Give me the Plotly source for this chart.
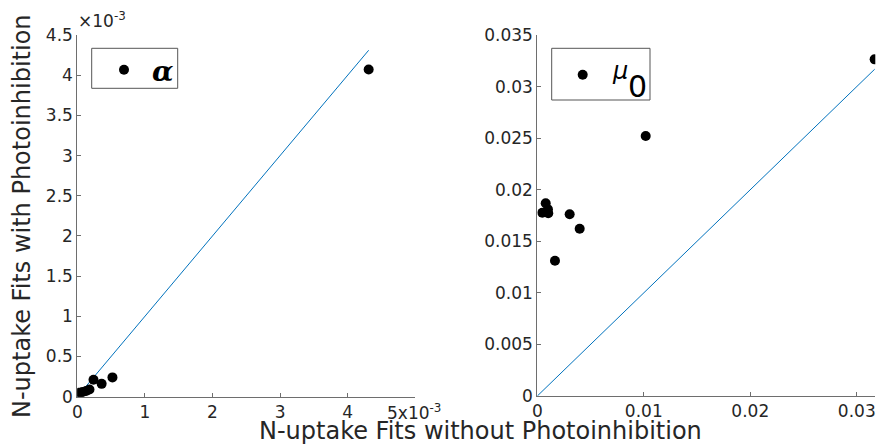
import plotly.graph_objects as go

# N-uptake fit parameters: without photoinhibition (x) vs with photoinhibition (y)
alpha_without = [4.31e-3, 0.52e-3, 0.36e-3, 0.24e-3, 0.18e-3, 0.13e-3, 0.08e-3, 0.02e-3, 0.05e-3]
alpha_with = [4.07e-3, 0.24e-3, 0.16e-3, 0.21e-3, 0.09e-3, 0.07e-3, 0.06e-3, 0.05e-3, 0.05e-3]

mu0_without = [0.03168, 0.01018, 0.00398, 0.00304, 0.00166, 0.00047, 0.00079, 0.00100, 0.00103]
mu0_with = [0.03264, 0.02520, 0.01622, 0.01762, 0.01312, 0.01777, 0.01868, 0.01810, 0.01771]

alpha_ytick_vals = [0, 0.5e-3, 1e-3, 1.5e-3, 2e-3, 2.5e-3, 3e-3, 3.5e-3, 4e-3, 4.5e-3]
alpha_ytick_text = ["0", "0.5", "1", "1.5", "2", "2.5", "3", "3.5", "4", "4.5"]
alpha_xtick_vals = [0, 1e-3, 2e-3, 3e-3, 4e-3]
alpha_xtick_text = ["0", "1", "2", "3", "4"]
mu0_ytick_vals = [0, 0.005, 0.01, 0.015, 0.02, 0.025, 0.03, 0.035]
mu0_ytick_text = ["0", "0.005", "0.01", "0.015", "0.02", "0.025", "0.03", "0.035"]
mu0_xtick_vals = [0, 0.01, 0.02, 0.03]
mu0_xtick_text = ["0", "0.01", "0.02", "0.03"]

W, H = 879, 445
FONT = "DejaVu Sans"
TXT = "#262626"
AX = "#6e6e6e"
BLUE = "#0072BD"


def px_x(p):
    return p / W


def px_y(p):
    return 1 - p / H


fig = go.Figure()

# one-to-one reference lines
a_max = max(alpha_without)
m_max = max(mu0_without)
fig.add_trace(go.Scatter(x=[0, a_max], y=[0, a_max], mode="lines",
                         line=dict(color=BLUE, width=1), showlegend=False,
                         xaxis="x", yaxis="y"))
fig.add_trace(go.Scatter(x=[0, m_max], y=[0, m_max], mode="lines",
                         line=dict(color=BLUE, width=1), showlegend=False,
                         xaxis="x2", yaxis="y2"))

fig.add_trace(go.Scatter(x=alpha_without, y=alpha_with, mode="markers",
                         marker=dict(color="black", size=10),
                         name="<b><i>α</i></b>", legend="legend",
                         xaxis="x", yaxis="y"))
# legend label for mu_0 is typeset separately below (large subscript)
fig.add_trace(go.Scatter(x=mu0_without, y=mu0_with, mode="markers",
                         marker=dict(color="black", size=10),
                         name="", legend="legend2", xaxis="x2", yaxis="y2"))

axis_common = dict(showgrid=False, zeroline=False, showline=True, linecolor=AX,
                   linewidth=1, ticks="inside", ticklen=4, tickcolor=AX,
                   tickfont=dict(family=FONT, size=17, color=TXT), mirror=False)

legend_common = dict(xanchor="left", yanchor="top", borderwidth=0,
                     bgcolor="rgba(0,0,0,0)", itemwidth=46)

fig.update_layout(
    width=W, height=H,
    margin=dict(l=0, r=0, t=0, b=0, autoexpand=False),
    paper_bgcolor="white", plot_bgcolor="white",
    font=dict(family=FONT, color=TXT),
    xaxis=dict(domain=[px_x(77.3), px_x(415.3)], range=[0, 5e-3],
               tickvals=alpha_xtick_vals, ticktext=alpha_xtick_text,
               anchor="y", **axis_common),
    yaxis=dict(domain=[px_y(396.7), px_y(35)], range=[0, 4.5e-3],
               tickvals=alpha_ytick_vals, ticktext=alpha_ytick_text,
               anchor="x", **axis_common),
    xaxis2=dict(domain=[px_x(537.3), px_x(875.3)], range=[0, 0.03174],
                tickvals=mu0_xtick_vals, ticktext=mu0_xtick_text,
                anchor="y2", **axis_common),
    yaxis2=dict(domain=[px_y(396), px_y(35)], range=[0, 0.035],
                tickvals=mu0_ytick_vals, ticktext=mu0_ytick_text,
                anchor="x2", **axis_common),
    legend=dict(x=px_x(96), y=px_y(45), font=dict(family="DejaVu Serif", size=28, color="black"),
                **legend_common),
    legend2=dict(x=px_x(554.7), y=px_y(52.7), font=dict(family=FONT, size=24, color="black"),
                 **legend_common),
    shapes=[
        dict(type="rect", xref="paper", yref="paper",
             x0=px_x(91.7), x1=px_x(177.7), y0=px_y(88.3), y1=px_y(48.3),
             line=dict(color="#555555", width=1), fillcolor="rgba(0,0,0,0)", layer="below"),
        dict(type="rect", xref="paper", yref="paper",
             x0=px_x(551.7), x1=px_x(650), y0=px_y(100), y1=px_y(48.3),
             line=dict(color="#555555", width=1), fillcolor="rgba(0,0,0,0)", layer="below"),
    ],
    annotations=[
        dict(text="<i>μ</i>", xref="paper", yref="paper",
             x=px_x(620), y=px_y(71), showarrow=False, xanchor="center", yanchor="middle",
             font=dict(family=FONT, size=24, color="black")),
        dict(text="0", xref="paper", yref="paper",
             x=px_x(637), y=px_y(86), showarrow=False, xanchor="center", yanchor="middle",
             font=dict(family=FONT, size=30, color="black")),
        dict(text="N-uptake Fits with Photoinhibition", xref="paper", yref="paper",
             x=px_x(22), y=px_y(216), textangle=-90, showarrow=False,
             font=dict(family=FONT, size=24, color=TXT), xanchor="center", yanchor="middle"),
        dict(text="N-uptake Fits without Photoinhibition", xref="paper", yref="paper",
             x=px_x(481), y=px_y(431), showarrow=False,
             font=dict(family=FONT, size=24, color=TXT), xanchor="center", yanchor="middle"),
        dict(text="×10<sup>-3</sup>", xref="paper", yref="paper",
             x=px_x(76), y=px_y(20), showarrow=False, xanchor="left", yanchor="middle",
             font=dict(family=FONT, size=17, color=TXT)),
        dict(text="5x10<sup>-3</sup>", xref="paper", yref="paper",
             x=px_x(385), y=px_y(412), showarrow=False, xanchor="left", yanchor="middle",
             font=dict(family=FONT, size=17, color=TXT)),
    ],
)

fig.write_html("out.html")
